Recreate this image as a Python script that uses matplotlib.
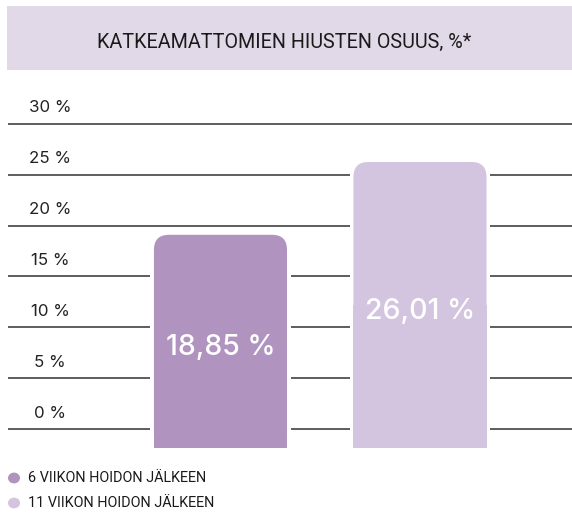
import matplotlib
matplotlib.use("Agg")
import matplotlib.pyplot as plt
from matplotlib.patches import FancyBboxPatch, Rectangle, Circle

title = "KATKEAMATTOMIEN HIUSTEN OSUUS, %*"
categories = ["6 VIIKON HOIDON JÄLKEEN", "11 VIIKON HOIDON JÄLKEEN"]
values = [18.85, 26.01]
value_labels = ["18,85 %", "26,01 %"]
ticks = [0, 5, 10, 15, 20, 25, 30]
tick_labels = ["0 %", "5 %", "10 %", "15 %", "20 %", "25 %", "30 %"]
colors = ["#B093BF", "#D3C4DF"]

W, H = 572, 515
fig = plt.figure(figsize=(W / 100, H / 100), dpi=100)

# title box
fig.patches.append(Rectangle((7 / W, 1 - 70 / H), (W - 7) / W, 64 / H,
                             transform=fig.transFigure, facecolor="#E2D9E8",
                             edgecolor="none", zorder=0))
fig.text(284 / W, 1 - 42 / H, title, ha="center", va="center",
         fontsize=14.2, family="Roboto", color="#1a1a1a")

ax = fig.add_axes([8 / W, (H - 448.3) / H, (W - 8) / W, (448.3 - 113.8) / H])
ax.set_xlim(-1.065, 1.762)
ax.set_ylim(-1.9, 31)
ax.axis("off")

bar_w = 0.667
bottom = -1.9
gap = 0.018
radius_px = 15

label_x = (50 - 8) / (W - 8)
for t, lab in zip(ticks, tick_labels):
    ax.axhline(t, color="#505050", lw=1.3, zorder=1)
    ax.annotate(lab, xy=(label_x, t), xycoords=("axes fraction", "data"),
                xytext=(0, 11.5), textcoords="offset points", ha="center", va="center",
                fontsize=12.2, family="Inter", color="#222222")

px_per_x = (W - 8) / (1.762 + 1.065)
px_per_y = (448.3 - 113.8) / (31 + 1.9)
for i, (v, c, vl) in enumerate(zip(values, colors, value_labels)):
    top = v + 0.25
    ax.add_patch(Rectangle((i - bar_w / 2 - gap, bottom), bar_w + 2 * gap, top - bottom,
                           facecolor="white", edgecolor="none", zorder=2))
    rx = radius_px / px_per_x
    ry = radius_px / px_per_y
    ax.add_patch(FancyBboxPatch((i - bar_w / 2 + rx, bottom + ry), bar_w - 2 * rx, top - bottom - 2 * ry,
                                boxstyle=f"round,pad={rx}", mutation_aspect=ry / rx,
                                facecolor=c, edgecolor="none", zorder=3))
    ax.add_patch(Rectangle((i - bar_w / 2, bottom), bar_w, (top - bottom) / 2,
                           facecolor=c, edgecolor="none", zorder=3))
    ax.text(i, (bottom + top) / 2 - 0.6, vl, ha="center", va="center",
            fontsize=20.5, family="Inter", fontweight="medium", color="white", zorder=4)

# legend
for j, (cat, c) in enumerate(zip(categories, colors)):
    y = 1 - (478 + 25 * j) / H
    fig.patches.append(Circle((14 / W, y), 6 / W, transform=fig.transFigure,
                              facecolor=c, edgecolor="none"))
    fig.text(28 / W, y, cat, ha="left", va="center", fontsize=10.4,
             family="Roboto", color="#1a1a1a")

fig.savefig("out.png", dpi=100)
